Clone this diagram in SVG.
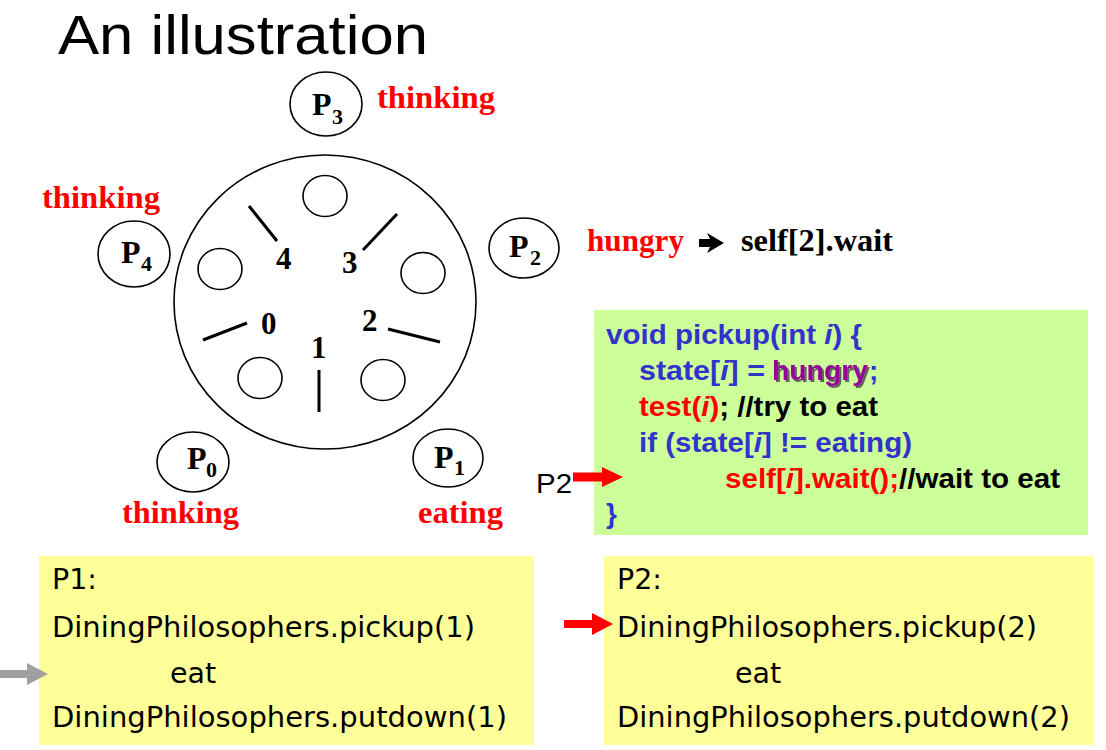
<svg xmlns="http://www.w3.org/2000/svg" width="1106" height="750" viewBox="0 0 1106 750">
<style>
.tbl{fill:none;stroke:#000;stroke-width:1.6}
.stick{stroke:#000;stroke-width:3;stroke-linecap:butt}
.tb{font-family:"Liberation Serif","Times New Roman",serif;font-weight:bold}
.pl{font-size:32px;fill:#000}
.sub{font-size:22px;fill:#000}
.num{font-size:31px;fill:#000}
.st{font-size:31px;fill:#FF0000}
.code{font-family:"Liberation Sans",Arial,sans-serif;font-weight:bold;font-size:28px}
.bl{fill:#3333CC}
.rd{fill:#FF0000}
.bk{fill:#000}
.it{font-style:italic}
.mono{font-family:"DejaVu Sans","Verdana",sans-serif;font-size:28.5px;fill:#000}
</style>
<defs>
<filter id="shadow" x="-10%" y="-20%" width="130%" height="150%">
<feDropShadow dx="2" dy="2" stdDeviation="0.6" flood-color="#555" flood-opacity="0.9"/>
</filter>
</defs>
<rect width="1106" height="750" fill="#fff"/>
<text id="title" x="58" y="54" font-family="'Liberation Sans',Arial,sans-serif" font-size="56" textLength="370" lengthAdjust="spacingAndGlyphs" fill="#000">An illustration</text>

<g id="table">
<ellipse class="tbl" cx="325" cy="302" rx="151" ry="147"/>
<ellipse class="tbl" cx="325" cy="196" rx="22" ry="20.5"/>
<ellipse class="tbl" cx="220" cy="269" rx="22" ry="20.5"/>
<ellipse class="tbl" cx="423" cy="273" rx="22" ry="20.5"/>
<ellipse class="tbl" cx="260" cy="378" rx="22" ry="20.5"/>
<ellipse class="tbl" cx="383" cy="380" rx="22" ry="20.5"/>
<line class="stick" x1="249" y1="206" x2="277" y2="241"/>
<line class="stick" x1="397" y1="214" x2="363" y2="250"/>
<line class="stick" x1="203" y1="340" x2="247" y2="323"/>
<line class="stick" x1="388" y1="329" x2="440" y2="342"/>
<line class="stick" x1="319" y1="370" x2="319" y2="412"/>
<text class="tb num" x="276" y="269">4</text>
<text class="tb num" x="342" y="273">3</text>
<text class="tb num" x="261" y="334">0</text>
<text class="tb num" x="362" y="331">2</text>
<text class="tb num" x="311" y="358">1</text>
</g>

<g id="p3">
<ellipse class="tbl" cx="326" cy="104" rx="36" ry="32"/>
<text class="tb pl" x="312" y="115">P</text><text class="tb sub" x="332" y="124">3</text>
<text class="tb st" x="377" y="108" textLength="118" lengthAdjust="spacingAndGlyphs">thinking</text>
</g>
<g id="p4">
<ellipse class="tbl" cx="134" cy="254" rx="36" ry="33"/>
<text class="tb pl" x="121" y="263">P</text><text class="tb sub" x="141" y="271">4</text>
<text class="tb st" x="42" y="208" textLength="118" lengthAdjust="spacingAndGlyphs">thinking</text>
</g>
<g id="p2">
<ellipse class="tbl" cx="524" cy="248" rx="35" ry="30"/>
<text class="tb pl" x="509" y="257">P</text><text class="tb sub" x="530" y="265">2</text>
<text class="tb st" x="587" y="251" textLength="97" lengthAdjust="spacingAndGlyphs">hungry</text>
<path d="M699,239 L710,239 L707,233 L724,243 L707,253 L710,247 L699,247 Z" fill="#000"/>
<text class="tb" x="741" y="251" font-size="31" fill="#000" textLength="152" lengthAdjust="spacingAndGlyphs">self[2].wait</text>
</g>
<g id="p0">
<ellipse class="tbl" cx="193" cy="462" rx="36" ry="30"/>
<text class="tb pl" x="187" y="469">P</text><text class="tb sub" x="206" y="477">0</text>
<text class="tb st" x="122" y="523" textLength="117" lengthAdjust="spacingAndGlyphs">thinking</text>
</g>
<g id="p1">
<ellipse class="tbl" cx="448" cy="458" rx="35" ry="29"/>
<text class="tb pl" x="434" y="468">P</text><text class="tb sub" x="454" y="475">1</text>
<text class="tb st" x="418" y="523" textLength="85" lengthAdjust="spacingAndGlyphs">eating</text>
</g>

<g id="code-box">
<rect x="594" y="310" width="494" height="225" fill="#CCFF99"/>
<text class="code bl" x="606" y="344" textLength="256" lengthAdjust="spacingAndGlyphs">void pickup(int <tspan class="it">i</tspan>) {</text>
<text class="code bl" x="639" y="380" textLength="126" lengthAdjust="spacingAndGlyphs">state[<tspan class="it">i</tspan>] = </text>
<text class="code" x="772" y="380" fill="#990099" filter="url(#shadow)" textLength="96" lengthAdjust="spacingAndGlyphs">hungry</text>
<text class="code bl" x="869" y="380">;</text>
<text class="code" x="639" y="416" textLength="239" lengthAdjust="spacingAndGlyphs"><tspan class="rd">test(</tspan><tspan class="rd it">i</tspan><tspan class="rd">)</tspan><tspan class="bk">; //try to eat</tspan></text>
<text class="code bl" x="639" y="452" textLength="273" lengthAdjust="spacingAndGlyphs">if (state[<tspan class="it">i</tspan>] != eating)</text>
<text class="code" x="725" y="488" textLength="335" lengthAdjust="spacingAndGlyphs"><tspan class="rd">self[</tspan><tspan class="rd it">i</tspan><tspan class="rd">].wait();</tspan><tspan class="bk">//wait to eat</tspan></text>
<text class="code bl" x="606" y="523">}</text>
</g>

<g id="p2-label">
<text x="536" y="493" font-family="'Liberation Sans',Arial,sans-serif" font-size="28" fill="#000" textLength="36" lengthAdjust="spacingAndGlyphs">P2</text>
</g>

<g id="p1-box">
<rect x="39" y="556" width="495" height="189" fill="#FFFF99"/>
<text class="mono" x="52" y="589">P1:</text>
<text class="mono" x="52" y="637" textLength="423" lengthAdjust="spacingAndGlyphs">DiningPhilosophers.pickup(1)</text>
<text class="mono" x="170" y="683">eat</text>
<text class="mono" x="52" y="727" textLength="455" lengthAdjust="spacingAndGlyphs">DiningPhilosophers.putdown(1)</text>
</g>
<g id="p2-box">
<rect x="604" y="556" width="489" height="189" fill="#FFFF99"/>
<text class="mono" x="617" y="589">P2:</text>
<text class="mono" x="617" y="637" textLength="420" lengthAdjust="spacingAndGlyphs">DiningPhilosophers.pickup(2)</text>
<text class="mono" x="735" y="683">eat</text>
<text class="mono" x="617" y="727" textLength="453" lengthAdjust="spacingAndGlyphs">DiningPhilosophers.putdown(2)</text>
</g>

<g id="connectors">
<path d="M573,472.5 L602,472.5 L602,467 L623,477 L602,487 L602,481.5 L573,481.5 Z" fill="#FF0000"/>
<path d="M564,620 L592,620 L592,613 L613,624 L592,635 L592,628 L564,628 Z" fill="#FF0000"/>
<path d="M0,670 L27,670 L27,663 L48,674 L27,685 L27,678 L0,678 Z" fill="#A0A0A0"/>
</g>
</svg>
